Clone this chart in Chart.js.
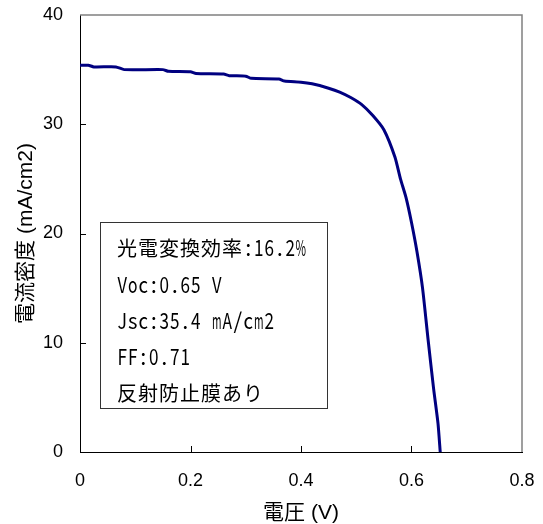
<!DOCTYPE html>
<html>
<head>
<meta charset="utf-8">
<script src="https://cdn.jsdelivr.net/npm/chart.js@4.4.1/dist/chart.umd.min.js"></script>
<style>
    html, body { margin: 0; padding: 0; background: #fff; }
</style>
</head>
<body>
<canvas id="ivChart" width="543" height="524"></canvas>
<script>
// I-V curve (V, mA/cm2)
const voltage = [0, 0.015, 0.025, 0.065, 0.08, 0.15, 0.16, 0.2, 0.21, 0.26, 0.27, 0.3, 0.31, 0.36, 0.37, 0.4, 0.42, 0.45, 0.47, 0.49, 0.51, 0.53, 0.55, 0.57, 0.58, 0.59, 0.6, 0.61, 0.62, 0.63, 0.64, 0.648, 0.652];
const current = [35.4, 35.4, 35.25, 35.25, 35.0, 35.0, 34.85, 34.8, 34.65, 34.6, 34.45, 34.4, 34.2, 34.15, 33.95, 33.85, 33.7, 33.3, 32.95, 32.45, 31.8, 30.8, 29.5, 27.0, 25.0, 23.3, 21.0, 18.3, 15.0, 10.3, 5.8, 2.6, 0];

const xTicks = [0, 0.2, 0.4, 0.6, 0.8];
const yTicks = [0, 10, 20, 30, 40];
const xTitle = '電圧 (V)';
const yTitle = '電流密度 (mA/cm2)';
const infoLines = ['光電変換効率:16.2%', 'Voc:0.65 V', 'Jsc:35.4 mA/cm2', 'FF:0.71', '反射防止膜あり'];

const latinFont = '"Liberation Sans", Arial, "Noto Sans CJK JP", sans-serif';

// draw text like a fixed-pitch Japanese font: wide chars full cell, others half cell
function drawMixed(ctx, text, x0, yMid) {
    let cx = x0;
    ctx.textBaseline = 'middle';
    for (const ch of text) {
        const wide = ch.charCodeAt(0) > 0x2e80;
        if (wide) {
            ctx.font = '20px "Noto Sans CJK JP"';
            ctx.textAlign = 'left';
            ctx.fillText(ch, cx, yMid);
            cx += 21;
        } else {
            ctx.font = '22px "Noto Sans CJK JP"';
            const w = ctx.measureText(ch).width;
            const lim = ch === '%' ? 10.5 : 9.5;
            const s = w > lim ? lim / w : 1;
            ctx.save();
            ctx.translate(cx + 5.25, yMid);
            ctx.scale(s, 1);
            ctx.textAlign = 'center';
            ctx.fillText(ch, 0, 0);
            ctx.restore();
            cx += 10.5;
        }
    }
}

// keep the plot area where the picture has it
function noOverflow(s) {
    s.paddingTop = 0;
    s.paddingBottom = 0;
    s.paddingLeft = 0;
    s.paddingRight = 0;
}

const framePlugin = {
    id: 'frameAndInfo',
    afterDatasetsDraw(chart) {
        const { ctx, chartArea: a, scales: { x, y } } = chart;
        ctx.save();

        // grey top/right frame
        ctx.strokeStyle = '#808080';
        ctx.lineWidth = 1.5;
        ctx.beginPath();
        ctx.moveTo(a.left, a.top);
        ctx.lineTo(a.right, a.top);
        ctx.lineTo(a.right, a.bottom);
        ctx.stroke();

        // tick marks pointing inward
        ctx.strokeStyle = '#000';
        ctx.lineWidth = 1;
        ctx.beginPath();
        x.ticks.forEach(t => {
            if (t.value > x.min && t.value < x.max) {
                const px = Math.round(x.getPixelForValue(t.value)) + 0.5;
                ctx.moveTo(px, a.bottom);
                ctx.lineTo(px, a.bottom - 6);
            }
        });
        y.ticks.forEach(t => {
            if (t.value > y.min && t.value < y.max) {
                const py = Math.round(y.getPixelForValue(t.value)) + 0.5;
                ctx.moveTo(a.left, py);
                ctx.lineTo(a.left + 6, py);
            }
        });
        ctx.stroke();

        // info box
        const bx = a.left + 20, by = a.top + 207, bw = 227, bh = 186;
        ctx.fillStyle = '#fff';
        ctx.fillRect(bx, by, bw, bh);
        ctx.strokeStyle = '#333';
        ctx.lineWidth = 1;
        ctx.strokeRect(bx + 0.5, by + 0.5, bw, bh);

        ctx.fillStyle = '#000';
        infoLines.forEach((line, i) => {
            drawMixed(ctx, line, bx + 17, by + 26 + i * 36.3);
        });

        ctx.restore();
    }
};

const ctx = document.getElementById('ivChart').getContext('2d');
window.ivChart = new Chart(ctx, {
    type: 'scatter',
    data: {
        datasets: [{
            label: 'I-V',
            data: voltage.map((v, i) => ({ x: v, y: current[i] })),
            showLine: true,
            borderColor: '#000080',
            borderWidth: 3,
            pointRadius: 0,
            tension: 0.2
        }]
    },
    options: {
        responsive: false,
        animation: false,
        layout: {
            padding: { top: 15, right: 21, bottom: 0, left: 0 }
        },
        plugins: {
            legend: { display: false },
            tooltip: { enabled: false }
        },
        scales: {
            x: {
                type: 'linear',
                min: 0,
                max: 0.8,
                afterBuildTicks: s => { s.ticks = xTicks.map(v => ({ value: v })); },
                afterFit: s => { s.height = 72; noOverflow(s); },
                grid: { display: false, drawTicks: false },
                border: { color: '#000', width: 1 },
                ticks: {
                    color: '#000',
                    padding: 18,
                    maxRotation: 0,
                    font: { family: latinFont, size: 18 }
                },
                title: {
                    display: true,
                    text: xTitle,
                    color: '#000',
                    padding: { top: 0, bottom: -2 },
                    font: { family: latinFont, size: 21 }
                }
            },
            y: {
                min: 0,
                max: 40,
                afterBuildTicks: s => { s.ticks = yTicks.map(v => ({ value: v })); },
                afterFit: s => { s.width = 80; noOverflow(s); },
                grid: { display: false, drawTicks: false },
                border: { color: '#000', width: 1 },
                ticks: {
                    color: '#000',
                    padding: 17,
                    font: { family: latinFont, size: 18 }
                },
                title: {
                    display: true,
                    text: yTitle,
                    color: '#000',
                    padding: { top: 14, bottom: 0 },
                    font: { family: latinFont, size: 21 }
                }
            }
        }
    },
    plugins: [framePlugin]
});
</script>
</body>
</html>
